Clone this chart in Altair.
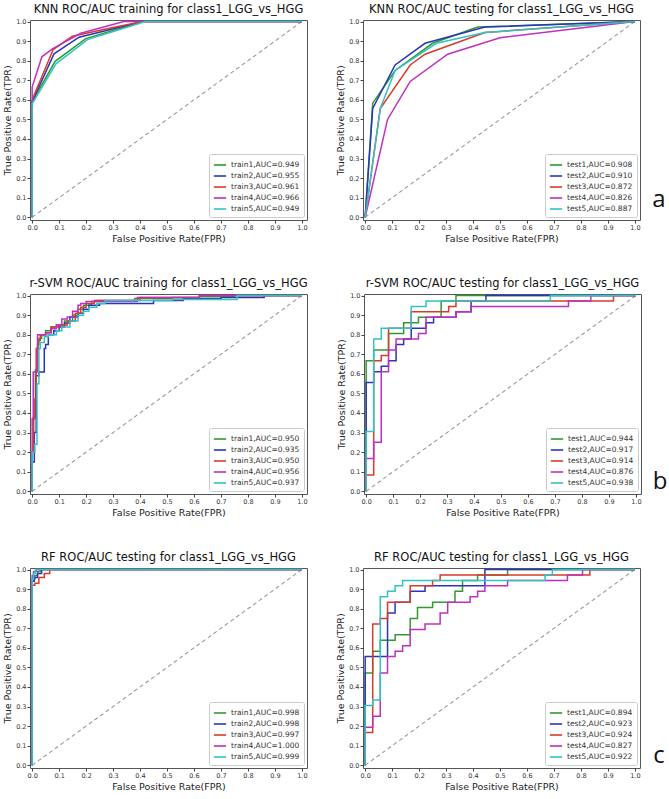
import altair as alt
import pandas as pd

FONT = "DejaVu Sans"
COLORS = ["#2f9a2f", "#2a36b8", "#d83b2b", "#c030c0", "#30c4c4"]
TICKS = [0.0, 0.1, 0.2, 0.3, 0.4, 0.5, 0.6, 0.7, 0.8, 0.9, 1.0]

W, H = 277, 200

# ---------------- panel titles ----------------
titles = [
    "KNN ROC/AUC training for class1_LGG_vs_HGG",
    "KNN ROC/AUC testing for class1_LGG_vs_HGG",
    "r-SVM ROC/AUC training for class1_LGG_vs_HGG",
    "r-SVM ROC/AUC testing for class1_LGG_vs_HGG",
    "RF ROC/AUC testing for class1_LGG_vs_HGG",
    "RF ROC/AUC testing for class1_LGG_vs_HGG",
]

# ---------------- legend labels ----------------
knn_train_labels = ["train1,AUC=0.949", "train2,AUC=0.955", "train3,AUC=0.961", "train4,AUC=0.966", "train5,AUC=0.949"]
knn_test_labels = ["test1,AUC=0.908", "test2,AUC=0.910", "test3,AUC=0.872", "test4,AUC=0.826", "test5,AUC=0.887"]
svm_train_labels = ["train1,AUC=0.950", "train2,AUC=0.935", "train3,AUC=0.950", "train4,AUC=0.956", "train5,AUC=0.937"]
svm_test_labels = ["test1,AUC=0.944", "test2,AUC=0.917", "test3,AUC=0.914", "test4,AUC=0.876", "test5,AUC=0.938"]
rf_train_labels = ["train1,AUC=0.998", "train2,AUC=0.998", "train3,AUC=0.997", "train4,AUC=1.000", "train5,AUC=0.999"]
rf_test_labels = ["test1,AUC=0.894", "test2,AUC=0.923", "test3,AUC=0.924", "test4,AUC=0.827", "test5,AUC=0.922"]

# ---------------- KNN training (polyline vertices) ----------------
knn_train_fpr = [
    [0, 0, 0.085, 0.199, 0.41, 1],
    [0, 0, 0.081, 0.174, 0.41, 1],
    [0, 0, 0.078, 0.149, 0.30, 0.41, 1],
    [0, 0, 0.036, 0.075, 0.18, 0.34, 1],
    [0, 0, 0.088, 0.205, 0.42, 1],
]
knn_train_tpr = [
    [0, 0.59, 0.797, 0.913, 1, 1],
    [0, 0.59, 0.835, 0.92, 1, 1],
    [0, 0.60, 0.857, 0.925, 0.97, 1, 1],
    [0, 0.665, 0.82, 0.86, 0.94, 1, 1],
    [0, 0.58, 0.784, 0.908, 1, 1],
]

# ---------------- KNN testing (polyline vertices) ----------------
knn_test_fpr = [
    [0, 0.028, 0.111, 0.25, 0.417, 1],
    [0, 0.028, 0.111, 0.222, 0.444, 1],
    [0, 0.056, 0.167, 0.222, 0.444, 1],
    [0, 0.083, 0.167, 0.306, 0.5, 1],
    [0, 0.056, 0.111, 0.264, 0.444, 1],
]
knn_test_tpr = [
    [0, 0.583, 0.75, 0.889, 0.972, 1],
    [0, 0.556, 0.778, 0.889, 0.972, 1],
    [0, 0.556, 0.778, 0.833, 0.944, 1],
    [0, 0.5, 0.694, 0.833, 0.917, 1],
    [0, 0.556, 0.75, 0.889, 0.944, 1],
]

# ---------------- r-SVM training (step levels: right end fpr, tpr level) ----------------
svm_train_fpr = [
    [0, 0.005, 0.012, 0.02, 0.025, 0.035, 0.05, 0.07, 0.09, 0.12, 0.15, 0.17, 0.19, 0.22, 0.24, 0.38, 0.52, 0.62, 0.75, 1.0],
    [0, 0.008, 0.015, 0.025, 0.045, 0.05, 0.06, 0.08, 0.1, 0.12, 0.14, 0.17, 0.19, 0.21, 0.25, 0.45, 0.56, 0.7, 0.86, 1.0],
    [0, 0.005, 0.01, 0.015, 0.022, 0.03, 0.05, 0.07, 0.1, 0.13, 0.16, 0.18, 0.2, 0.23, 0.4, 0.62, 1.0],
    [0, 0.004, 0.02, 0.05, 0.07, 0.09, 0.11, 0.13, 0.15, 0.17, 0.18, 0.2, 0.39, 0.62, 1.0],
    [0, 0.01, 0.018, 0.025, 0.03, 0.045, 0.06, 0.09, 0.11, 0.14, 0.17, 0.19, 0.21, 0.24, 0.27, 0.52, 0.76, 1.0],
]
svm_train_tpr = [
    [0, 0.2, 0.38, 0.62, 0.75, 0.78, 0.8, 0.82, 0.84, 0.85, 0.87, 0.9, 0.93, 0.95, 0.97, 0.975, 0.985, 0.99, 0.995, 1.0],
    [0, 0.15, 0.3, 0.59, 0.61, 0.73, 0.75, 0.8, 0.82, 0.84, 0.86, 0.89, 0.91, 0.93, 0.95, 0.96, 0.975, 0.985, 0.99, 1.0],
    [0, 0.2, 0.37, 0.47, 0.73, 0.77, 0.8, 0.81, 0.84, 0.85, 0.87, 0.91, 0.94, 0.96, 0.975, 0.99, 1.0],
    [0, 0.37, 0.61, 0.80, 0.81, 0.83, 0.85, 0.88, 0.89, 0.92, 0.95, 0.96, 0.97, 0.99, 1.0],
    [0, 0.2, 0.24, 0.55, 0.73, 0.76, 0.79, 0.8, 0.82, 0.84, 0.87, 0.9, 0.92, 0.94, 0.96, 0.975, 0.98, 1.0],
]

# ---------------- r-SVM testing (step levels) ----------------
svm_test_fpr = [
    [0, 0.028, 0.083, 0.139, 0.194, 0.278, 0.333, 1.0],
    [0, 0.028, 0.056, 0.083, 0.111, 0.139, 0.167, 0.222, 0.25, 0.333, 0.389, 0.444, 1.0],
    [0, 0.028, 0.056, 0.083, 0.167, 0.306, 0.333, 0.917, 1.0],
    [0, 0.028, 0.056, 0.083, 0.111, 0.194, 0.222, 0.333, 0.389, 0.75, 0.833, 1.0],
    [0, 0.028, 0.056, 0.167, 0.222, 0.683, 1.0],
]
svm_test_tpr = [
    [0, 0.667, 0.722, 0.806, 0.861, 0.889, 0.972, 1.0],
    [0, 0.556, 0.611, 0.639, 0.667, 0.75, 0.778, 0.833, 0.861, 0.889, 0.917, 0.972, 1.0],
    [0, 0.083, 0.667, 0.694, 0.833, 0.917, 0.944, 0.972, 1.0],
    [0, 0.167, 0.25, 0.611, 0.722, 0.778, 0.806, 0.889, 0.917, 0.944, 0.972, 1.0],
    [0, 0.306, 0.778, 0.833, 0.944, 0.972, 1.0],
]

# ---------------- RF training (step levels) ----------------
rf_train_fpr = [
    [0, 0.01, 0.02, 0.03, 1.0],
    [0, 0.008, 0.02, 0.035, 1.0],
    [0, 0.01, 0.025, 0.045, 0.065, 1.0],
    [0, 0.005, 0.015, 1.0],
    [0, 0.005, 0.012, 1.0],
]
rf_train_tpr = [
    [0, 0.95, 0.97, 0.99, 1.0],
    [0, 0.94, 0.96, 0.98, 1.0],
    [0, 0.92, 0.93, 0.96, 0.98, 1.0],
    [0, 0.97, 0.99, 1.0],
    [0, 0.95, 0.98, 1.0],
]

# ---------------- RF testing (step levels) ----------------
rf_test_fpr = [
    [0, 0.028, 0.056, 0.111, 0.167, 0.194, 0.25, 0.333, 0.361, 0.417, 0.528, 1.0],
    [0, 0.083, 0.111, 0.167, 0.222, 0.444, 1.0],
    [0, 0.028, 0.056, 0.083, 0.167, 0.25, 0.278, 0.833, 1.0],
    [0, 0.028, 0.056, 0.083, 0.111, 0.139, 0.167, 0.222, 0.278, 0.306, 0.389, 0.417, 0.444, 0.528, 0.75, 0.806, 1.0],
    [0, 0.028, 0.056, 0.083, 0.111, 0.139, 0.667, 0.694, 1.0],
]
rf_test_tpr = [
    [0, 0.472, 0.583, 0.639, 0.667, 0.75, 0.806, 0.833, 0.889, 0.944, 0.972, 1.0],
    [0, 0.556, 0.778, 0.833, 0.889, 0.917, 1.0],
    [0, 0.167, 0.722, 0.75, 0.833, 0.917, 0.944, 0.972, 1.0],
    [0, 0.194, 0.25, 0.472, 0.556, 0.583, 0.611, 0.694, 0.722, 0.778, 0.833, 0.861, 0.889, 0.917, 0.944, 0.972, 1.0],
    [0, 0.306, 0.333, 0.861, 0.889, 0.917, 0.944, 0.972, 1.0],
]

diag_x = [0.0, 1.0]
diag_y = [0.0, 1.0]


def panel(title, labels, fprs, tprs, interp, letter=None, letter_dy=20):
    rows = []
    for lab, fx, ty in zip(labels, fprs, tprs):
        for k, (a, b) in enumerate(zip(fx, ty)):
            rows.append({"series": lab, "fpr": a, "tpr": b, "k": k})
    df = pd.DataFrame(rows)
    xs = alt.Scale(domain=[-0.008, 1.019], nice=False, zero=False)
    ys = alt.Scale(domain=[-0.014, 1.008], nice=False, zero=False)
    xaxis = alt.Axis(values=TICKS, format=".1f", title="False Positive Rate(FPR)", labelFlush=False)
    yaxis = alt.Axis(values=TICKS, format=".1f", title="True Positive Rate(TPR)", labelFlush=False)

    diag = alt.Chart(pd.DataFrame({"fpr": diag_x, "tpr": diag_y})).mark_line(
        color="#9a9a9a", strokeDash=[4, 3], strokeWidth=1.1
    ).encode(
        x=alt.X("fpr:Q", scale=xs, axis=xaxis),
        y=alt.Y("tpr:Q", scale=ys, axis=yaxis),
    )
    curves = alt.Chart(df).mark_line(strokeWidth=1.5, interpolate=interp).encode(
        x=alt.X("fpr:Q", scale=xs, axis=xaxis),
        y=alt.Y("tpr:Q", scale=ys, axis=yaxis),
        order=alt.Order("k:Q"),
        color=alt.Color(
            "series:N",
            title=None,
            scale=alt.Scale(domain=labels, range=COLORS),
            legend=alt.Legend(
                orient="bottom-right",
                symbolType="stroke",
                symbolSize=150,
                symbolStrokeWidth=1.6,
                labelFontSize=7.5,
                labelFont=FONT,
                labelColor="#333333",
                fillColor="white",
                strokeColor="#cccccc",
                padding=4,
                offset=3,
                rowPadding=0,
                cornerRadius=2,
                labelLimit=200,
            ),
        ),
    )
    layers = [diag, curves]
    if letter:
        txt = alt.Chart(pd.DataFrame({"t": [letter]})).mark_text(
            fontSize=24, font="Open Sans", align="center", baseline="middle", color="#111111"
        ).encode(text="t:N", x=alt.value(W + 19), y=alt.value(H - letter_dy))
        layers.append(txt)
    return alt.layer(*layers).properties(
        width=W, height=H,
        title=alt.TitleParams(titles_map[title], frame="group"),
    )


titles_map = {i: t for i, t in enumerate(titles)}

p1 = panel(0, knn_train_labels, knn_train_fpr, knn_train_tpr, "linear")
p2 = panel(1, knn_test_labels, knn_test_fpr, knn_test_tpr, "linear", "a", 20)
p3 = panel(2, svm_train_labels, svm_train_fpr, svm_train_tpr, "step-before")
p4 = panel(3, svm_test_labels, svm_test_fpr, svm_test_tpr, "step-before", "b", 12)
p5 = panel(4, rf_train_labels, rf_train_fpr, rf_train_tpr, "step-before")
p6 = panel(5, rf_test_labels, rf_test_fpr, rf_test_tpr, "step-before", "c", 12)


def row(a, b):
    return alt.hconcat(a, b, spacing=27).resolve_scale(color="independent").resolve_legend(color="independent")


chart = alt.vconcat(row(p1, p2), row(p3, p4), row(p5, p6), spacing=33).resolve_scale(
    color="independent"
).resolve_legend(color="independent").properties(
    padding={"left": 2, "top": 3, "right": 0, "bottom": 0},
    background="white",
).configure_view(
    stroke="#555555", strokeWidth=1
).configure_axis(
    domain=False, grid=False, tickColor="#444444", tickSize=3,
    labelFontSize=6.5, labelFont=FONT, labelColor="#333333",
    titleFont=FONT, titleFontSize=9.5, titleFontWeight="normal", titleColor="#222222",
    labelPadding=1, titlePadding=3,
).configure_title(
    font=FONT, fontSize=11.5, fontWeight="normal", color="#111111", offset=3, anchor="middle"
)

chart.save("out.html", embed_options={"renderer": "svg", "actions": False})
